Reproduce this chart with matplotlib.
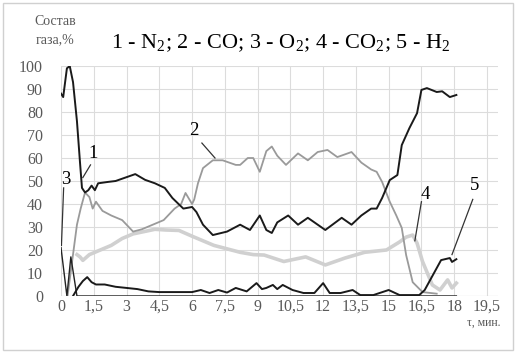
import matplotlib
matplotlib.use('Agg')
import matplotlib.pyplot as plt
from matplotlib.patches import Rectangle
import numpy as np

plt.rcParams['font.family'] = ['Liberation Serif', 'DejaVu Serif']
plt.rcParams['mathtext.default'] = 'regular'

# 1 - N2 (black)
t_n2 = [0, 0.1, 0.27, 0.4, 0.55, 0.73, 0.87, 0.96, 1.1, 1.25, 1.4, 1.55, 1.7, 2.15, 2.5, 2.8, 3.1, 3.4,
        3.85, 4.3, 4.75, 5.1, 5.6, 6.0, 6.2, 6.5, 6.95, 7.6, 8.2, 8.65, 9.1, 9.4, 9.65, 9.9, 10.4, 10.85,
        11.3, 12.1, 12.85, 13.3, 13.75, 14.2, 14.45, 14.7, 15.05, 15.4, 15.6, 15.95, 16.3, 16.5, 16.75,
        17.2, 17.45, 17.8, 18.1]
n2 = [88, 86.5, 99, 100, 93, 76, 58, 47, 45, 46, 48, 46, 49, 49.6, 50, 51, 52, 53, 50.5, 49, 47, 42.6,
      38, 38.7, 36.5, 31, 26.5, 28, 31, 28.7, 35, 28.7, 27.4, 32, 35, 31, 34, 28.7, 34, 31, 35, 38, 38,
      42.6, 50.4, 52.6, 65.6, 73, 79.5, 89.6, 90.4, 88.7, 89, 86.5, 87.4]

# 2 - CO (grey)
t_co = [0.3, 0.73, 0.9, 1.1, 1.3, 1.45, 1.6, 1.9, 2.3, 2.8, 3.0, 3.3, 3.7, 4.2, 4.7, 5.2, 5.5, 5.7, 6.0,
        6.1, 6.27, 6.5, 6.95, 7.4, 8.0, 8.2, 8.55, 8.8, 9.1, 9.4, 9.65, 9.9, 10.3, 10.85, 11.3, 11.75,
        12.2, 12.65, 13.3, 13.75, 14.2, 14.45, 14.7, 15.05, 15.35, 15.6, 15.8, 16.1, 16.55, 17.2]
co = [0, 31, 38, 45, 43, 38, 41, 37, 35, 33, 31, 28, 29, 31, 33, 38, 40, 44.8, 40, 42, 49, 55.6, 59, 59,
      57, 57, 60, 60, 54, 63, 65, 61, 57, 62, 59, 62.6, 63.5, 60.4, 62.6, 58, 55, 54, 49.6, 41, 35, 29.6,
      17.8, 6, 1.7, 1]

# 3 - O2 (black, thin)
t_o2 = [0, 0.27, 0.45, 0.73, 18.1]
o2 = [21, 0, 17, 0, 0]

# 4 - CO2 (light grey)
t_co2 = [0.73, 0.87, 1.0, 1.3, 1.8, 2.3, 2.8, 3.3, 3.8, 4.3, 4.8, 5.4, 6.0, 6.5, 7.0, 7.6, 8.2, 8.8, 9.3,
         10.2, 11.2, 12.1, 13.0, 13.9, 14.9, 15.5, 15.8, 16.1, 16.3, 16.55, 17.0, 17.35, 17.7, 17.9, 18.1]
co2 = [18, 17, 15.5, 18, 20, 22, 25, 27, 28, 29, 28.7, 28.5, 26, 24, 22, 20.5, 19, 18, 17.8, 15, 17,
       13.5, 16.5, 19, 20, 23.5, 25.6, 26.5, 23, 15, 4.8, 2.6, 7, 3.5, 5.6]

# 5 - H2 (black)
t_h2 = [0.55, 0.8, 1.0, 1.2, 1.4, 1.6, 2.0, 2.5, 3.0, 3.5, 4.0, 4.5, 5.0, 5.5, 6.0, 6.4, 6.8, 7.2, 7.6,
        8.0, 8.5, 8.95, 9.2, 9.4, 9.7, 9.9, 10.15, 10.6, 11.1, 11.6, 12.0, 12.3, 12.8, 13.35, 13.7, 14.3,
        15.0, 15.5, 16.0, 16.4, 16.65, 17.1, 17.4, 17.8, 17.9, 18.1]
h2 = [0, 4, 6.5, 8.2, 6, 5, 5, 4, 3.5, 3, 2, 1.7, 1.7, 1.7, 1.7, 2.6, 1.3, 2.6, 1.5, 3.5, 2, 5.6, 3,
      3.5, 4.8, 3, 4.8, 2.6, 1.3, 1.3, 5.6, 1.3, 1.3, 2.6, 0.4, 0.4, 2.6, 0.4, 0.4, 0.4, 2.6, 10.4,
      15.6, 16.5, 14.8, 16]

x_ticks = np.arange(0, 20, 1.5)
x_labels = ['0', '1,5', '3', '4,5', '6', '7,5', '9', '10,5', '12', '13,5', '15', '16,5', '18', '19,5']
y_ticks = np.arange(0, 101, 10)

# curve labels: text position, leader start, leader end
labels = [('1', (1.46, 62), (1.35, 57), (1.0, 51.5)),
          ('2', (6.1, 72), (6.45, 66.5), (7.05, 60)),
          ('3', (0.2, 50.5), (0.12, 47), (0.02, 22)),
          ('4', (16.7, 44), (16.5, 41), (16.2, 24)),
          ('5', (18.95, 48), (18.85, 42), (17.9, 18))]

grey_txt = '#595959'

fig = plt.figure(figsize=(5.17, 3.53), dpi=100)
ax = fig.add_axes([0.118, 0.1615, 0.845, 0.6515])

ax.plot(t_co2, co2, color='#d0d0d0', lw=2.6, solid_joinstyle='round', zorder=2)
ax.plot(t_co, co, color='#9a9a9a', lw=1.3, zorder=3)
ax.plot(t_o2, o2, color='#222222', lw=1.0, zorder=3)
ax.plot(t_n2, n2, color='#1a1a1a', lw=1.4, zorder=4)
ax.plot(t_h2, h2, color='#1a1a1a', lw=1.4, zorder=4)

for txt, pos, p0, p1 in labels:
    ax.text(pos[0], pos[1], txt, fontsize=13.5, ha='center', va='center', color='black')
    ax.plot([p0[0], p1[0]], [p0[1], p1[1]], color='#333333', lw=0.9, zorder=5)

ax.set_xlim(0, 20)
ax.set_ylim(0, 100)
ax.set_xticks(x_ticks)
ax.set_xticklabels(x_labels)
ax.set_yticks(y_ticks)
ax.grid(True, color='#dcdcdc', lw=0.8)
ax.set_axisbelow(True)
ax.tick_params(length=0, labelsize=11.5, colors=grey_txt)
ax.tick_params(axis='x', pad=2)
ax.tick_params(axis='y', pad=13)
for s in ax.spines.values():
    s.set_visible(False)
ax.axhline(0, color='#d0d0d0', lw=0.8, zorder=1)

fig.text(0.544, 0.878, r'1 - N$_2$; 2 - CO; 3 - O$_2$; 4 - CO$_2$; 5 - H$_2$',
         fontsize=16, ha='center', va='center')
fig.text(0.106, 0.938, 'Состав', fontsize=10, ha='center', va='center', color=grey_txt)
fig.text(0.106, 0.887, 'газа,%', fontsize=10, ha='center', va='center', color=grey_txt)
fig.text(0.968, 0.085, 'τ, мин.', fontsize=8.5, ha='right', va='center', color=grey_txt)

fig.patches.append(Rectangle((0.006, 0.008), 0.986, 0.984, transform=fig.transFigure,
                             fill=False, ec='#d0d0d0', lw=1))

plt.savefig('out.png', dpi=100)
